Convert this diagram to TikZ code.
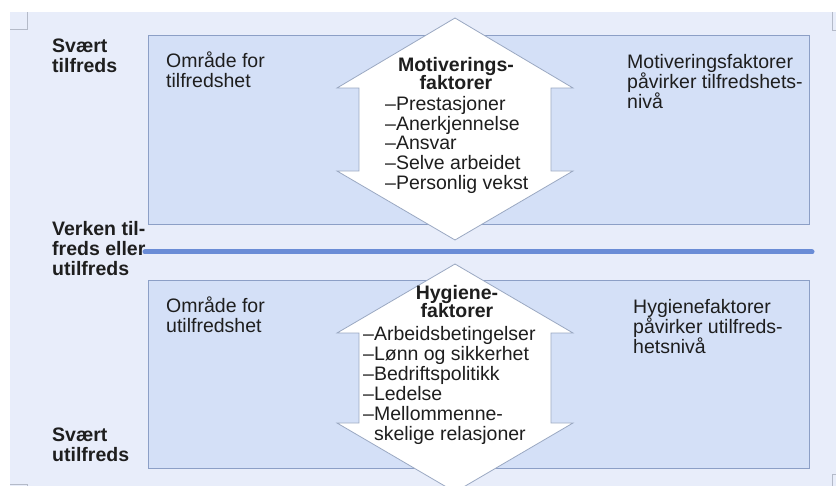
\documentclass[tikz,border=0pt]{standalone}
\usepackage{fontspec}
\setmainfont{Liberation Sans}
\definecolor{slidebg}{HTML}{E8EDFA}
\definecolor{zonefill}{HTML}{D4E0F7}
\definecolor{zoneline}{HTML}{8C9FC6}
\definecolor{arrowline}{HTML}{9AA8C2}
\definecolor{levelblue}{HTML}{6A8CD6}
\definecolor{cornergray}{HTML}{B4BAC8}
\definecolor{txt}{HTML}{1E1E1E}
\begin{document}
\begin{tikzpicture}[x=1pt, y=-1pt,
	zone/.style={draw=zoneline, fill=zonefill, line width=.9pt},
	twoway/.style={draw=arrowline, fill=white, line width=.8pt},
	cornerline/.style={draw=cornergray, line width=.8pt},
	lbl/.style={anchor=north west, inner sep=0pt, align=left, text=txt, font=\fontsize{19.5}{20}\selectfont},
	side/.style={lbl, font=\bfseries\fontsize{19.5}{20}\selectfont},
	factorhead/.style={anchor=north, inner sep=0pt, align=center, text=txt, font=\bfseries\fontsize{19.5}{20}\selectfont}]
	\useasboundingbox (0,0) rectangle (836,486);
	%lysbilde
	\fill[slidebg] (10,12) rectangle (836,486);
	\draw[cornerline] (10,29)  -- (27,29)  -- (27,12);
	\draw[cornerline] (832,12) -- (832,30) -- (836,30);
	\draw[cornerline] (10,484) -- (27,484) -- (27,486);
	\draw[cornerline] (836,474) -- (832,474) -- (832,486);
	%omraader
	\draw[zone] (148,35)  rectangle (809,224);
	\draw[zone] (148,280) rectangle (809,468);
	\coordinate (midL) at (145,252);
	\coordinate (midR) at (812,252);
	\draw[levelblue, line width=5pt, line cap=round] (midL) -- (midR);
	%piler
	\draw[twoway] (455,18)  -- ++(118,70) -- ++(-22,0) -- ++(0,83) -- ++(22,0) -- ++(-118,69) -- ++(-118,-69) -- ++(22,0) -- ++(0,-83) -- ++(-22,0) -- cycle;
	\draw[twoway] (455,264) -- ++(118,69) -- ++(-22,0) -- ++(0,90) -- ++(22,0) -- ++(-118,69) -- ++(-118,-69) -- ++(22,0) -- ++(0,-90) -- ++(-22,0) -- cycle;
	%tekst
	\node[side] (svtil)    at (52,39)   {Svært\\tilfreds};
	\node[side] (verken)   at (52,221)  {Verken til-\\freds eller\\utilfreds};
	\node[side] (svutil)   at (52,428)  {Svært\\utilfreds};
	\node[lbl]  (omrtil)   at (166,52)  {Område for\\tilfredshet};
	\node[lbl]  (omrutil)  at (166,297) {Område for\\utilfredshet};
	\node[lbl]  (motright) at (627,54)  {Motiveringsfaktorer\\påvirker tilfredshets-\\nivå};
	\node[lbl]  (hygright) at (633,299) {Hygienefaktorer\\påvirker utilfreds-\\hetsnivå};
	\node[factorhead] (motivhead) at (456,57)  {Motiverings-\\[-2pt]faktorer};
	\node[lbl, font=\fontsize{19.5}{19.8}\selectfont] (motivlist) at (385,96) {--Prestasjoner\\--Anerkjennelse\\--Ansvar\\--Selve arbeidet\\--Personlig vekst};
	\node[factorhead] (hyghead)   at (457,285) {Hygiene-\\[-2pt]faktorer};
	\node[lbl]  (hyglist)  at (363,326) {--Arbeidsbetingelser\\--Lønn og sikkerhet\\--Bedriftspolitikk\\--Ledelse\\--Mellommenne-\\\hphantom{--}skelige relasjoner};
\end{tikzpicture}
\end{document}
